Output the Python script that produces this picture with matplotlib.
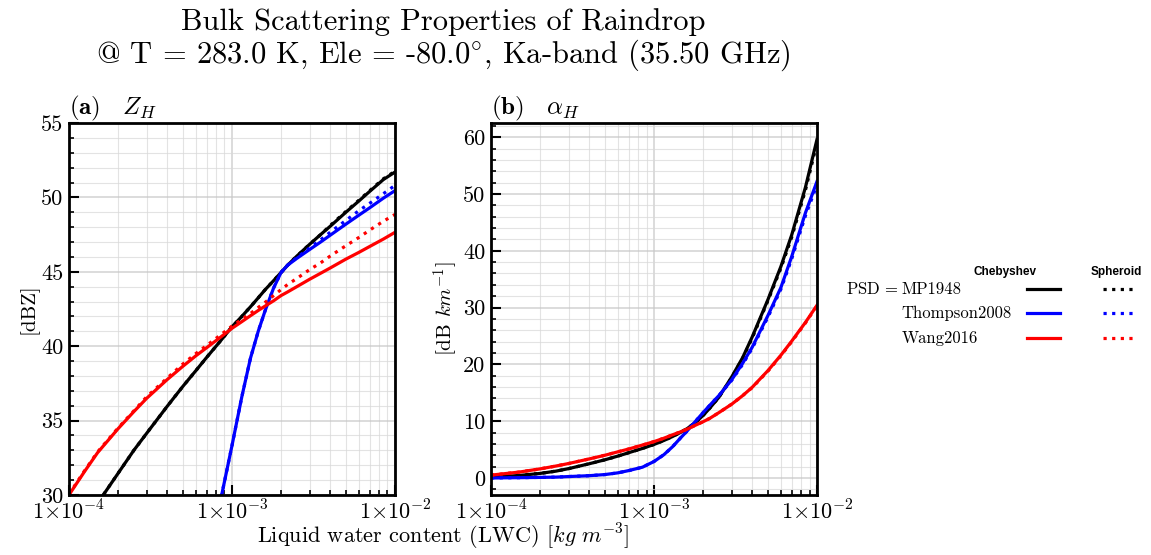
import numpy as np
import matplotlib
matplotlib.use("Agg")
import matplotlib.pyplot as plt
from matplotlib.lines import Line2D
from matplotlib.ticker import MultipleLocator, LogLocator, FixedLocator, NullFormatter

plt.rcParams['font.family'] = ['cmr10', 'DejaVu Serif']
plt.rcParams['mathtext.fontset'] = 'cm'
plt.rcParams['axes.unicode_minus'] = False

# liquid water content grid [kg m-3]
lwc = [1.0e-4, 1.25e-4, 1.5e-4, 2.0e-4, 2.5e-4, 3.0e-4, 4.0e-4, 5.0e-4, 6.0e-4, 7.0e-4,
       8.5e-4, 1.0e-3, 1.15e-3, 1.3e-3, 1.45e-3, 1.6e-3, 1.8e-3, 2.0e-3, 2.2e-3, 2.5e-3,
       3.0e-3, 3.5e-3, 4.0e-3, 5.0e-3, 6.0e-3, 7.0e-3, 8.5e-3, 1.0e-2]

# (a) Z_H [dBZ]
zh_mp_cheb = [26.7, 28.2, 29.45, 31.45, 33.0, 34.15, 35.95, 37.3, 38.35, 39.25,
              40.35, 41.3, 42.0, 42.65, 43.25, 43.8, 44.4, 44.95, 45.45, 46.05,
              46.85, 47.5, 48.05, 49.0, 49.75, 50.4, 51.2, 51.7]
zh_mp_sph = [26.7, 28.2, 29.45, 31.45, 33.0, 34.15, 35.95, 37.3, 38.35, 39.25,
             40.35, 41.3, 42.0, 42.65, 43.25, 43.8, 44.4, 44.95, 45.45, 46.05,
             46.85, 47.5, 48.1, 49.05, 49.8, 50.45, 51.25, 51.75]
zh_th_cheb = [np.nan, np.nan, np.nan, np.nan, np.nan, np.nan, np.nan, np.nan, np.nan, 25.0,
              29.6, 33.3, 36.6, 39.2, 41.0, 42.4, 43.9, 44.95, 45.45, 45.9,
              46.5, 47.0, 47.45, 48.2, 48.8, 49.3, 49.95, 50.45]
zh_th_sph = [np.nan, np.nan, np.nan, np.nan, np.nan, np.nan, np.nan, np.nan, np.nan, 25.0,
             29.6, 33.3, 36.6, 39.2, 41.0, 42.4, 43.9, 44.95, 45.45, 45.95,
             46.6, 47.15, 47.65, 48.45, 49.1, 49.6, 50.25, 50.8]
zh_wa_cheb = [30.0, 31.6, 32.85, 34.45, 35.6, 36.5, 37.75, 38.65, 39.35, 39.9,
              40.6, 41.2, 41.65, 42.05, 42.4, 42.7, 43.05, 43.4, 43.65, 44.0,
              44.5, 44.9, 45.25, 45.85, 46.3, 46.7, 47.2, 47.65]
zh_wa_sph = [30.05, 31.65, 32.9, 34.5, 35.65, 36.6, 37.85, 38.8, 39.5, 40.05,
             40.75, 41.35, 41.8, 42.2, 42.6, 42.95, 43.4, 43.8, 44.15, 44.55,
             45.15, 45.6, 46.05, 46.75, 47.3, 47.8, 48.4, 48.85]

# (b) alpha_H [dB km-1]
ah_mp_cheb = [0.2, 0.3, 0.45, 0.8, 1.2, 1.65, 2.5, 3.2, 3.85, 4.45,
              5.2, 5.9, 6.6, 7.3, 8.0, 8.7, 9.8, 11.0, 12.3, 14.2,
              17.8, 21.2, 24.8, 31.4, 37.2, 42.8, 51.2, 59.6]
ah_mp_sph = [0.2, 0.3, 0.45, 0.8, 1.2, 1.65, 2.5, 3.2, 3.85, 4.45,
             5.2, 5.9, 6.6, 7.3, 8.0, 8.7, 9.8, 11.0, 12.3, 14.2,
             17.7, 21.1, 24.6, 31.2, 36.9, 42.4, 50.7, 59.0]
ah_th_cheb = [0.0, 0.03, 0.05, 0.1, 0.15, 0.25, 0.4, 0.6, 0.9, 1.3,
              1.9, 2.9, 4.1, 5.5, 7.0, 8.3, 10.0, 11.5, 12.8, 14.5,
              17.3, 20.2, 23.0, 28.6, 33.5, 39.0, 46.7, 52.2]
ah_th_sph = [0.0, 0.03, 0.05, 0.1, 0.15, 0.25, 0.4, 0.6, 0.9, 1.3,
             1.9, 2.9, 4.1, 5.5, 7.0, 8.3, 10.0, 11.5, 12.8, 14.5,
             17.2, 20.0, 22.8, 28.3, 33.2, 38.6, 46.2, 51.6]
ah_wa_cheb = [0.5, 0.8, 1.05, 1.6, 2.1, 2.55, 3.35, 4.0, 4.6, 5.1,
              5.8, 6.4, 7.0, 7.6, 8.1, 8.6, 9.3, 9.9, 10.5, 11.5,
              13.0, 14.5, 15.95, 18.9, 21.6, 24.1, 27.4, 30.4]
ah_wa_sph = [0.5, 0.8, 1.05, 1.6, 2.1, 2.55, 3.35, 4.0, 4.6, 5.1,
             5.8, 6.4, 7.0, 7.6, 8.1, 8.6, 9.3, 9.9, 10.5, 11.5,
             13.0, 14.5, 15.9, 18.8, 21.5, 24.0, 27.3, 30.3]

psd_names = ['MP1948', 'Thompson2008', 'Wang2016']
psd_colors = ['black', 'blue', 'red']

dot = (0, (1, 1.7))
lw = 2.3

fig = plt.figure(figsize=(11.51, 5.55), dpi=100)
axa = fig.add_axes([0.0599, 0.1081, 0.2832, 0.6703])
axb = fig.add_axes([0.4266, 0.1081, 0.2832, 0.6703])

series_a = [(zh_mp_cheb, zh_mp_sph), (zh_th_cheb, zh_th_sph), (zh_wa_cheb, zh_wa_sph)]
series_b = [(ah_mp_cheb, ah_mp_sph), (ah_th_cheb, ah_th_sph), (ah_wa_cheb, ah_wa_sph)]

for ax, series in [(axa, series_a), (axb, series_b)]:
    for (cheb, sph), c in zip(series, psd_colors):
        ax.plot(lwc, cheb, color=c, lw=lw)
        ax.plot(lwc, sph, color=c, lw=lw, ls=dot)
    ax.set_xscale('log')
    ax.set_xlim(1e-4, 1e-2)
    ax.xaxis.set_major_locator(FixedLocator([1e-4, 1e-3, 1e-2]))
    ax.set_xticklabels([r'$1{\times}10^{-4}$', r'$1{\times}10^{-3}$', r'$1{\times}10^{-2}$'])
    ax.xaxis.set_minor_locator(LogLocator(base=10, subs=np.arange(2, 10)))
    ax.xaxis.set_minor_formatter(NullFormatter())
    ax.tick_params(which='major', direction='in', length=7, width=1.5, labelsize=16, pad=4)
    ax.tick_params(which='minor', direction='in', length=3.5, width=1.2)
    ax.tick_params(axis='x', which='major', pad=3)
    ax.grid(which='major', color='#c8c8c8', lw=1.3, alpha=0.7)
    ax.grid(which='minor', color='#d8d8d8', lw=0.8, alpha=0.7)
    for s in ax.spines.values():
        s.set_linewidth(2)

axa.set_ylim(30, 55)
axa.yaxis.set_major_locator(MultipleLocator(5))
axa.yaxis.set_minor_locator(MultipleLocator(1))
axa.set_ylabel('[dBZ]', fontsize=15, labelpad=2)
axa.set_title(r'$\mathbf{(a)}\quad Z_H$', loc='left', fontsize=18, pad=6)

axb.set_ylim(-3, 62.5)
axb.yaxis.set_major_locator(MultipleLocator(10))
axb.yaxis.set_minor_locator(MultipleLocator(2))
axb.set_ylabel(r'[dB $km^{-1}$]', fontsize=15, labelpad=2)
axb.set_title(r'$\mathbf{(b)}\quad \alpha_H$', loc='left', fontsize=18, pad=6)

fig.text(0.385, 0.006, r'Liquid water content (LWC) [$kg\ m^{-3}$]', ha='center',
         va='bottom', fontsize=16)
fig.suptitle('Bulk Scattering Properties of Raindrop\n'
             r'@ T = 283.0 K, Ele = -80.0$^{\circ}$, Ka-band (35.50 GHz)',
             x=0.385, y=0.985, va='top', fontsize=22, linespacing=1.05)

# legend block
fig.text(0.873, 0.51, 'Chebyshev', ha='center', va='center', fontsize=8.5,
         fontweight='bold', family='Liberation Sans')
fig.text(0.970, 0.51, 'Spheroid', ha='center', va='center', fontsize=8.5,
         fontweight='bold', family='Liberation Sans')
row_y = [0.479, 0.436, 0.391]
fig.text(0.781, row_y[0], r'PSD$\,=\,$', ha='right', va='center', fontsize=12)
for name, c, y in zip(psd_names, psd_colors, row_y):
    fig.text(0.783, y, name, ha='left', va='center', fontsize=12)
    fig.add_artist(Line2D([0.892, 0.921], [y, y], transform=fig.transFigure,
                          color=c, lw=lw))
    fig.add_artist(Line2D([0.958, 0.987], [y, y], transform=fig.transFigure,
                          color=c, lw=lw, ls=dot))

fig.savefig('out.png', dpi=100)
